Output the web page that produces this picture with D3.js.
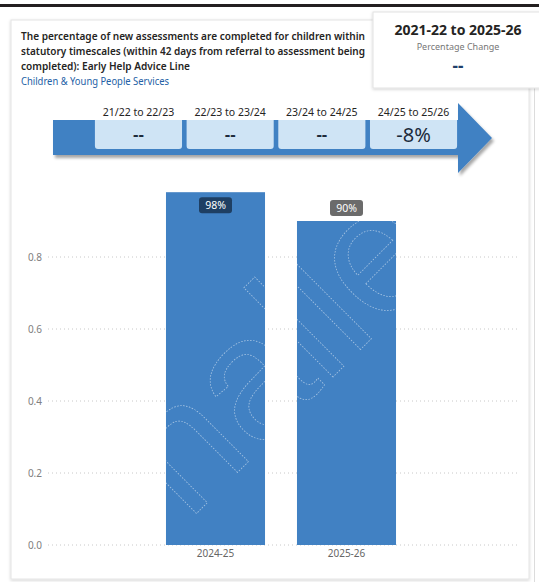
<!DOCTYPE html>
<html>
<head>
<meta charset="utf-8">
<script src="https://cdn.jsdelivr.net/npm/d3@7"></script>
<style>
  html, body { margin: 0; padding: 0; background: #ffffff; }
  svg { display: block; }
</style>
</head>
<body>
<svg id="chart" width="539" height="582"></svg>
<script>
// ---- data ----
const years = ["2024-25", "2025-26"];
const values = [0.98, 0.90];
const valueLabels = ["98%", "90%"];
const labelFills = ["#1e3f63", "#6b6b6b"];
const yTicks = [0, 0.2, 0.4, 0.6, 0.8];

const changePeriods = ["21/22 to 22/23", "22/23 to 23/24", "23/24 to 24/25", "24/25 to 25/26"];
const changeValues = ["--", "--", "--", "-8%"];

const titleLines = [
  "The percentage of new assessments are completed for children within",
  "statutory timescales (within 42 days from referral to assessment being",
  "completed): Early Help Advice Line"
];
const subtitle = "Children & Young People Services";
const overallPeriod = "2021-22 to 2025-26";
const overallCaption = "Percentage Change";
const overallValue = "--";

// ---- setup ----
const svg = d3.select("#chart");
const FONT = "'Segoe UI', 'Noto Sans', 'Open Sans', sans-serif";
const BLUE = "#4181c3";

const defs = svg.append("defs");
const sh = defs.append("filter").attr("id", "cardShadow")
  .attr("x", "-10%").attr("y", "-10%").attr("width", "120%").attr("height", "120%");
sh.append("feDropShadow").attr("dx", 0).attr("dy", 1).attr("stdDeviation", 1.5)
  .attr("flood-color", "#000").attr("flood-opacity", 0.18);
const ash = defs.append("filter").attr("id", "arrowShadow")
  .attr("x", "-10%").attr("y", "-30%").attr("width", "120%").attr("height", "160%");
ash.append("feDropShadow").attr("dx", 2).attr("dy", 3).attr("stdDeviation", 1.6)
  .attr("flood-color", "#000").attr("flood-opacity", 0.35);

// top rule
svg.append("rect").attr("x", 0).attr("y", 4).attr("width", 539).attr("height", 3).attr("fill", "#231f20");

// neighbouring panel edge on the right
svg.append("line").attr("x1", 534.5).attr("x2", 534.5).attr("y1", 88).attr("y2", 582)
  .attr("stroke", "#dcdcdc").attr("stroke-width", 1);

// main card
svg.append("rect").attr("x", 11).attr("y", 20).attr("width", 518).attr("height", 559)
  .attr("fill", "#fff").attr("stroke", "#e4e4e4").attr("stroke-width", 1)
  .attr("filter", "url(#cardShadow)");

// title
const titleG = svg.append("g").attr("font-family", FONT).attr("font-weight", 600)
  .attr("font-size", 11).attr("fill", "#252423");
const titleWidths = [344, 344, 169];
titleLines.forEach((t, i) => {
  titleG.append("text").attr("x", 21).attr("y", 40 + i * 15)
    .attr("textLength", titleWidths[i]).attr("lengthAdjust", "spacingAndGlyphs").text(t);
});
svg.append("text").attr("x", 21).attr("y", 85).attr("font-family", FONT)
  .attr("font-size", 10.5).attr("fill", "#2360a5")
  .attr("textLength", 148).attr("lengthAdjust", "spacingAndGlyphs").text(subtitle);

// overall change card
svg.append("rect").attr("x", 373).attr("y", 12).attr("width", 172).attr("height", 76)
  .attr("fill", "#fff").attr("stroke", "#e2e2e2").attr("filter", "url(#cardShadow)");
svg.append("text").attr("x", 458).attr("y", 35).attr("text-anchor", "middle")
  .attr("font-family", FONT).attr("font-weight", 700).attr("font-size", 14)
  .attr("fill", "#252423").text(overallPeriod);
svg.append("text").attr("x", 458).attr("y", 49.5).attr("text-anchor", "middle")
  .attr("font-family", FONT).attr("font-size", 9).attr("fill", "#777").text(overallCaption);
svg.append("text").attr("x", 458).attr("y", 72).attr("text-anchor", "middle")
  .attr("font-family", FONT).attr("font-weight", 700).attr("font-size", 17)
  .attr("fill", "#1f3f6b").text(overallValue);

// ---- change arrow ----
const arrowG = svg.append("g");
arrowG.append("path")
  .attr("d", "M53,120 L458,120 L458,103 L492,138 L458,173 L458,155 L53,155 Z")
  .attr("fill", BLUE).attr("filter", "url(#arrowShadow)");
const boxX = d3.scaleBand().domain(changePeriods).range([94, 458]).paddingInner(0.05).paddingOuter(0.01);
changePeriods.forEach((p, i) => {
  const x0 = boxX(p), w = boxX.bandwidth();
  arrowG.append("path")
    .attr("d", `M${x0},120 H${x0 + w} V${146} q0,3 -3,3 H${x0 + 3} q-3,0 -3,-3 Z`)
    .attr("fill", "#cfe4f5");
  arrowG.append("text").attr("x", x0 + w / 2).attr("y", 116).attr("text-anchor", "middle")
    .attr("font-family", FONT).attr("font-size", 10.5).attr("fill", "#252423").text(p);
  const isDash = changeValues[i] === "--";
  arrowG.append("text").attr("x", x0 + w / 2).attr("y", isDash ? 141 : 142)
    .attr("text-anchor", "middle").attr("font-family", FONT)
    .attr("font-size", isDash ? 17 : 20).attr("font-weight", isDash ? 600 : 400)
    .attr("fill", "#1c2b3c").text(changeValues[i]);
});

// ---- bar chart ----
const y = d3.scaleLinear().domain([0, 1]).range([545, 185]);
const x = d3.scaleBand().domain(years).range([150, 412]).paddingInner(0.244).paddingOuter(0.122);

// gridlines
svg.append("g").selectAll("line").data(yTicks).join("line")
  .attr("x1", 48).attr("x2", 518)
  .attr("y1", d => y(d)).attr("y2", d => y(d))
  .attr("stroke", "#c8c8c8").attr("stroke-width", 1).attr("stroke-dasharray", "1,3");

// y axis labels
const yAxis = d3.axisLeft(y).tickValues(yTicks).tickFormat(d3.format(".1f")).tickSize(0).tickPadding(0);
const yg = svg.append("g").attr("transform", "translate(42,0)").call(yAxis);
yg.select(".domain").remove();
yg.selectAll("text").attr("font-family", FONT).attr("font-size", 10).attr("fill", "#808080");

// bars
const bars = svg.append("g");
bars.selectAll("rect").data(values).join("rect")
  .attr("x", (d, i) => x(years[i]))
  .attr("y", d => y(d))
  .attr("width", x.bandwidth())
  .attr("height", d => y(0) - y(d))
  .attr("fill", BLUE);

// faint watermark, visible only over the bars
const clip = defs.append("clipPath").attr("id", "barClip");
values.forEach((d, i) => {
  clip.append("rect").attr("x", x(years[i])).attr("y", y(d))
    .attr("width", x.bandwidth()).attr("height", y(0) - y(d));
});
svg.append("g").attr("clip-path", "url(#barClip)")
  .append("text")
  .attr("transform", "translate(188,522) rotate(-45)")
  .attr("font-family", "'Liberation Sans', Arial, sans-serif")
  .attr("font-size", 174)
  .attr("fill", "none").attr("stroke", "#ffffff").attr("stroke-width", 0.7)
  .attr("stroke-dasharray", "1.5,1.5").attr("opacity", 0.55)
  .text("nalle");

// x axis labels
const xAxis = d3.axisBottom(x).tickSize(0).tickPadding(0);
const xg = svg.append("g").attr("transform", "translate(0,557)").call(xAxis);
xg.select(".domain").remove();
xg.selectAll("text").attr("font-family", FONT).attr("font-size", 10).attr("fill", "#666")
  .attr("dy", "0");

// value labels
const lab = svg.append("g");
values.forEach((d, i) => {
  const cx = x(years[i]) + x.bandwidth() / 2;
  const h = 16, w = 33;
  let top = y(d) - 5 - h;
  if (top < y(1)) top = y(d) + 5;
  lab.append("rect").attr("x", cx - w / 2).attr("y", top).attr("width", w).attr("height", h)
    .attr("rx", 3).attr("fill", labelFills[i]);
  lab.append("text").attr("x", cx).attr("y", top + 12).attr("text-anchor", "middle")
    .attr("font-family", FONT).attr("font-size", 10.5).attr("fill", "#fff").text(valueLabels[i]);
});
</script>
</body>
</html>
